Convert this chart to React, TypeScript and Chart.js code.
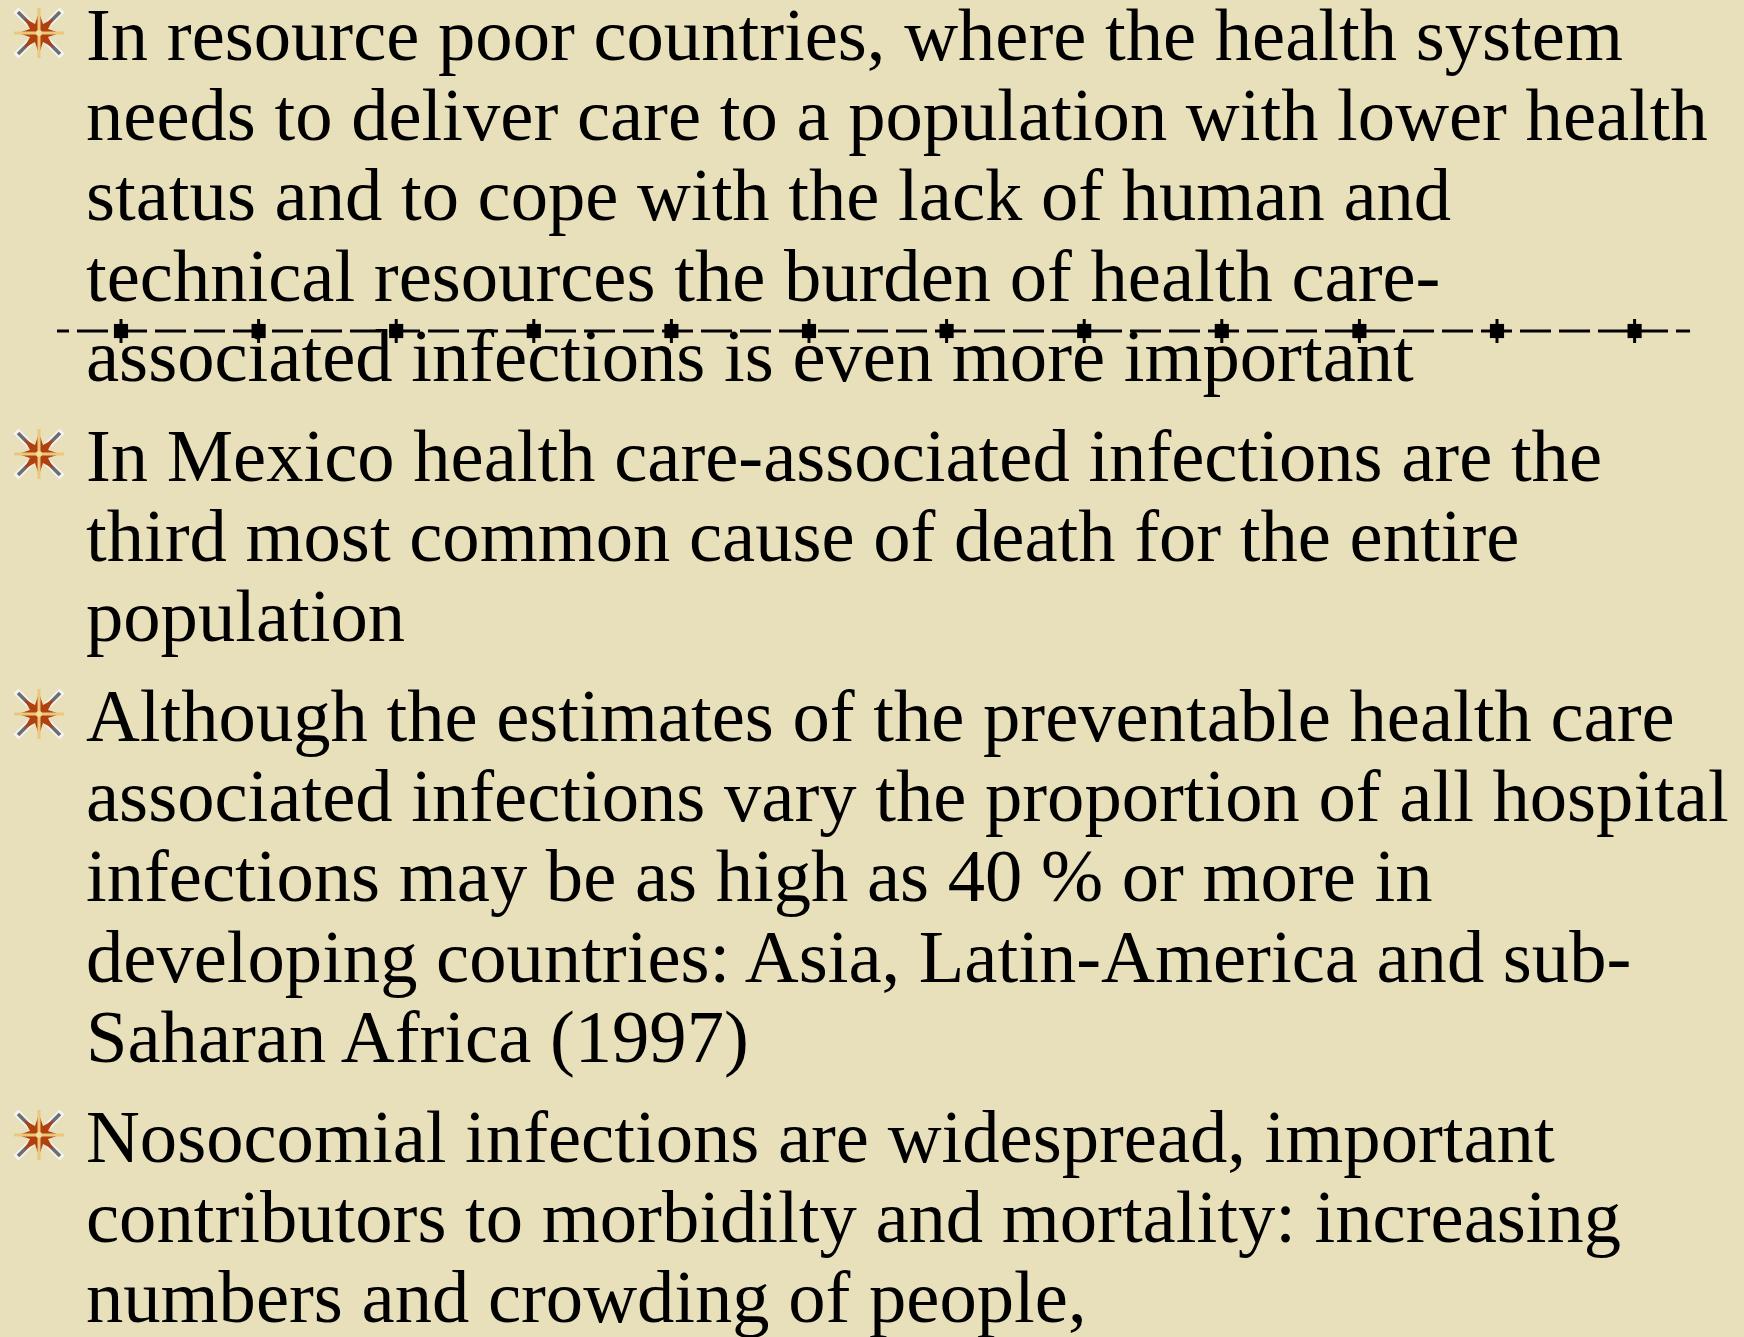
import React, { useEffect, useRef } from "react";
import { Chart, registerables } from "chart.js";

Chart.register(...registerables);

// ---- data ----
const markerIndex = [1, 2, 3, 4, 5, 6, 7, 8, 9, 10, 11, 12];
const markerValues = [0, 0, 0, 0, 0, 0, 0, 0, 0, 0, 0, 0];
const lineExtentX = [0.535, 12.403];
const lineExtentY = [0, 0];

const paragraphs: string[][] = [
  [
    "In resource poor countries, where the health system",
    "needs to deliver care to a population with lower health",
    "status and to cope with the lack of human and",
    "technical resources the burden of health care-",
    "associated infections is even more important",
  ],
  [
    "In Mexico health care-associated infections are the",
    "third most common cause of death for the entire",
    "population",
  ],
  [
    "Although the estimates of the preventable health care",
    "associated infections vary the proportion of all hospital",
    "infections may be as high as 40 % or more in",
    "developing countries: Asia, Latin-America and sub-",
    "Saharan Africa (1997)",
  ],
  [
    "Nosocomial infections are widespread, important",
    "contributors to morbidilty and mortality: increasing",
    "numbers and crowding of people,",
  ],
];
const paragraphFirstBaselines = [60, 481, 741, 1162];

const FONT_SIZE = 74.6;
const LINE_H = 60;
const LINE_STEP = 80.3;
const TEXT_LEFT = 86;

function Bullet({ top }: { top: number }) {
  return (
    <svg
      width={54}
      height={54}
      viewBox="0 0 54 54"
      style={{ position: "absolute", left: 12, top }}
    >
      <line x1="4" y1="4" x2="50" y2="50" stroke="#f4f4f4" strokeWidth="7" />
      <line x1="50" y1="4" x2="4" y2="50" stroke="#f4f4f4" strokeWidth="7" />
      <line x1="6" y1="6" x2="48" y2="48" stroke="#6e6e6e" strokeWidth="3.5" />
      <line x1="48" y1="6" x2="6" y2="48" stroke="#6e6e6e" strokeWidth="3.5" />
      <polygon
        points="27,6 31,18 42,12 36,23 48,27 36,31 42,42 31,36 27,48 23,36 12,42 18,31 6,27 18,23 12,12 23,18"
        fill="#b0400e"
      />
      <line x1="27" y1="2" x2="27" y2="52" stroke="#ecc77a" strokeWidth="3" />
      <line x1="2" y1="27" x2="52" y2="27" stroke="#ecc77a" strokeWidth="3" />
      <circle cx="27" cy="27" r="3" fill="#f6dc9a" />
    </svg>
  );
}

function DashedMarkerLine() {
  const ref = useRef<HTMLCanvasElement | null>(null);
  useEffect(() => {
    if (!ref.current) return;
    const minX = 1 - 121 / 137.6;
    const maxX = minX + 1744 / 137.6;
    const chart = new Chart(ref.current, {
      type: "scatter",
      data: {
        datasets: [
          {
            label: "line",
            data: lineExtentX.map((x, i) => ({ x, y: lineExtentY[i] })),
            showLine: true,
            borderColor: "#000",
            borderWidth: 3,
            borderDash: [31, 8],
            borderDashOffset: 19,
            pointRadius: 0,
            clip: false as any,
          },
          {
            label: "ticks",
            data: markerIndex.map((x, i) => ({ x, y: markerValues[i] })),
            showLine: false,
            pointStyle: "line",
            rotation: 90,
            pointRadius: 12,
            pointBorderWidth: 3,
            borderColor: "#000",
            backgroundColor: "#000",
            clip: false as any,
          },
          {
            label: "markers",
            data: markerIndex.map((x, i) => ({ x, y: markerValues[i] })),
            showLine: false,
            pointStyle: "rect",
            pointRadius: 10,
            pointBorderWidth: 0,
            backgroundColor: "#000",
            borderColor: "#000",
            clip: false as any,
          },
        ],
      },
      options: {
        animation: false,
        responsive: false,
        maintainAspectRatio: false,
        layout: { padding: 0, autoPadding: false } as any,
        plugins: { legend: { display: false }, tooltip: { enabled: false } },
        events: [],
        scales: {
          x: { type: "linear", display: false, min: minX, max: maxX },
          y: { type: "linear", display: false, min: -1, max: 1 },
        },
      },
    });
    return () => chart.destroy();
  }, []);
  return (
    <canvas
      ref={ref}
      width={1744}
      height={44}
      style={{ position: "absolute", left: 0, top: 309, width: 1744, height: 44 }}
    />
  );
}

export default function App() {
  const ascentOffset = 0.891 * FONT_SIZE - (1.107 * FONT_SIZE - LINE_H) / 2;
  const items: React.ReactNode[] = [];
  paragraphs.forEach((lines, p) => {
    const b0 = paragraphFirstBaselines[p];
    items.push(<Bullet key={"b" + p} top={b0 - 54} />);
    lines.forEach((t, i) => {
      const baseline = b0 + i * LINE_STEP;
      items.push(
        <div
          key={p + "-" + i}
          style={{
            position: "absolute",
            left: TEXT_LEFT,
            top: baseline - ascentOffset,
            fontSize: FONT_SIZE,
            lineHeight: LINE_H + "px",
            height: LINE_H,
            whiteSpace: "nowrap",
            color: "#000",
          }}
        >
          {t}
        </div>
      );
    });
  });
  return (
    <div
      style={{
        position: "fixed",
        left: 0,
        top: 0,
        width: 1744,
        height: 1337,
        overflow: "hidden",
        background: "#e8e0ba",
        fontFamily: '"Liberation Serif", "Times New Roman", serif',
      }}
    >
      {items}
      <DashedMarkerLine />
    </div>
  );
}
